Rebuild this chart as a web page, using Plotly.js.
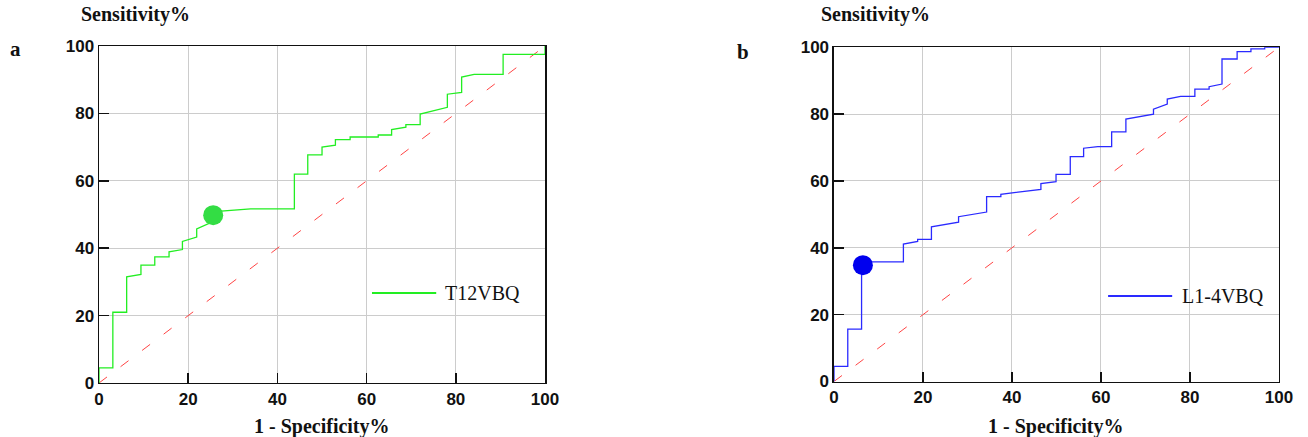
<!DOCTYPE html>
<html>
<head>
<meta charset="utf-8">
<script src="https://cdn.plot.ly/plotly-3.0.1.min.js"></script>
<style>html,body{margin:0;padding:0;background:#fff;}#chart{width:1308px;height:437px;}</style>
</head>
<body>
<div id="chart"></div>
<script>
// Panel a: T12VBQ ROC curve (1 - specificity %, sensitivity %)
const fprA = [0,0,3.1,3.1,6.2,6.2,9.4,9.4,12.5,12.5,15.7,15.7,18.7,18.7,21.9,21.9,25.2,25.2,34,43.8,43.8,46.8,46.8,50,50,53,53,56.3,56.3,62.6,62.6,65.6,65.6,68.8,68.8,72,72,78.1,78.1,81.3,81.3,84.1,90.6,90.6,100,100];
const tprA = [0,4.5,4.5,21,21,31.5,32.2,35,35,37.4,37.4,38.9,39.6,42,43.3,45.7,47.7,50.8,51.7,51.7,62,62,67.7,67.7,70,70.6,72.2,72.2,73,73,73.6,73.6,75.2,75.9,76.7,76.7,79.8,81.8,85.7,86.2,90.8,91.6,91.6,97.5,97.5,100];
const cutA_x = [25.6];
const cutA_y = [49.8];

// Panel b: L1-4VBQ ROC curve
const fprB = [0,0,3.1,3.1,6.2,6.2,15.6,15.6,18.8,18.8,21.9,21.9,28,28,34.3,34.3,37.5,37.5,46.5,46.5,49.9,49.9,53.1,53.1,56.1,56.1,59.3,62.4,62.4,65.6,65.6,71.8,71.8,74.9,74.9,77.9,81.1,81.1,84.3,84.3,87.2,87.2,90.6,90.6,93.7,93.7,96.8,96.8,100];
const tprB = [0,4.5,4.5,15.7,15.7,35.8,35.8,41.1,41.9,42.5,42.5,46.3,47.7,49.3,50.7,55.3,55.3,56,57.5,59.2,59.8,62,62,67.3,67.3,69.8,70.3,70.3,74.7,74.7,78.5,80,81.5,83,84.5,85.3,85.3,87.5,87.5,88.2,89,96.5,96.5,98.7,98.7,99.5,99.5,100,100];
const cutB_x = [6.5];
const cutB_y = [34.8];

// Reference (chance) diagonal
const diagX = [0, 100];
const diagY = [0, 100];

const tickVals = [0, 20, 40, 60, 80, 100];
const seriesNames = ['T12VBQ', 'L1-4VBQ'];
const panelLabels = ['a', 'b'];

const green = '#22ee22';
const blue = '#2a2aff';

const traces = [
  {x: diagX, y: diagY, xaxis: 'x', yaxis: 'y', mode: 'lines', line: {color: '#ff4444', width: 1, dash: '10px,17px'}, hoverinfo: 'skip', showlegend: false},
  {x: fprA, y: tprA, xaxis: 'x', yaxis: 'y', mode: 'lines', name: seriesNames[0], line: {color: green, width: 1.3}, showlegend: false},
  {x: cutA_x, y: cutA_y, xaxis: 'x', yaxis: 'y', mode: 'markers', marker: {color: '#33dd44', size: 20}, showlegend: false},
  {x: diagX, y: diagY, xaxis: 'x2', yaxis: 'y2', mode: 'lines', line: {color: '#ff4444', width: 1, dash: '10px,17px'}, hoverinfo: 'skip', showlegend: false},
  {x: fprB, y: tprB, xaxis: 'x2', yaxis: 'y2', mode: 'lines', name: seriesNames[1], line: {color: blue, width: 1.3}, showlegend: false},
  {x: cutB_x, y: cutB_y, xaxis: 'x2', yaxis: 'y2', mode: 'markers', marker: {color: '#0000ee', size: 20}, showlegend: false}
];

function axisStyle(domain, anchor) {
  return {
    domain: domain, anchor: anchor, range: [0, 100], fixedrange: true,
    tickmode: 'array', tickvals: tickVals, ticktext: tickVals.map(String),
    ticks: 'inside', ticklen: 10, tickwidth: 1.5, tickcolor: '#111',
    showline: true, linecolor: '#111', linewidth: 1.5, mirror: true,
    showgrid: true, gridcolor: '#cccccc', gridwidth: 1, zeroline: false,
    tickfont: {family: 'Liberation Sans, Arial, sans-serif', size: 17, weight: 'bold', color: '#111'}
  };
}

const serifBold = {family: 'Liberation Serif, Times New Roman, serif', size: 20, weight: 'bold', color: '#111'};
const panelFont = {family: 'Liberation Serif, Times New Roman, serif', size: 21, weight: 'bold', color: '#111'};
const serif = {family: 'Liberation Serif, Times New Roman, serif', size: 20, color: '#111'};

const layout = {
  width: 1308, height: 437,
  margin: {l: 0, r: 0, t: 0, b: 0},
  paper_bgcolor: '#ffffff', plot_bgcolor: '#ffffff',
  showlegend: false,
  xaxis: axisStyle([0.0757, 0.4167], 'y'),
  yaxis: axisStyle([0.1236, 0.8947], 'x'),
  xaxis2: axisStyle([0.6376, 0.9778], 'y2'),
  yaxis2: axisStyle([0.127, 0.8918], 'x2'),
  annotations: [
    {text: 'Sensitivity%', xref: 'paper', yref: 'paper', x: 0.0605, y: 0.9657, xanchor: 'left', yanchor: 'middle', showarrow: false, font: serifBold},
    {text: 'Sensitivity%', xref: 'paper', yref: 'paper', x: 0.6262, y: 0.9657, xanchor: 'left', yanchor: 'middle', showarrow: false, font: serifBold},
    {text: panelLabels[0], xref: 'paper', yref: 'paper', x: 0.006, y: 0.888, xanchor: 'left', yanchor: 'middle', showarrow: false, font: panelFont},
    {text: panelLabels[1], xref: 'paper', yref: 'paper', x: 0.5622, y: 0.881, xanchor: 'left', yanchor: 'middle', showarrow: false, font: panelFont},
    {text: '1 - Specificity%', xref: 'x', yref: 'paper', x: 50, y: 0.0229, xanchor: 'center', yanchor: 'middle', showarrow: false, font: serifBold},
    {text: '1 - Specificity%', xref: 'x2', yref: 'paper', x: 50, y: 0.0229, xanchor: 'center', yanchor: 'middle', showarrow: false, font: serifBold},
    {text: seriesNames[0], xref: 'x', yref: 'y', x: 77.1, y: 26.7, xanchor: 'left', yanchor: 'middle', showarrow: false, font: serif},
    {text: seriesNames[1], xref: 'x2', yref: 'y2', x: 77.8, y: 25.6, xanchor: 'left', yanchor: 'middle', showarrow: false, font: serif}
  ],
  shapes: [
    {type: 'line', xref: 'x', yref: 'y', x0: 61.2, x1: 75.6, y0: 26.7, y1: 26.7, line: {color: green, width: 2}},
    {type: 'line', xref: 'x2', yref: 'y2', x0: 61.6, x1: 76, y0: 25.6, y1: 25.6, line: {color: blue, width: 2}}
  ]
};

Plotly.newPlot('chart', traces, layout, {displayModeBar: false, staticPlot: true});
</script>
</body>
</html>
